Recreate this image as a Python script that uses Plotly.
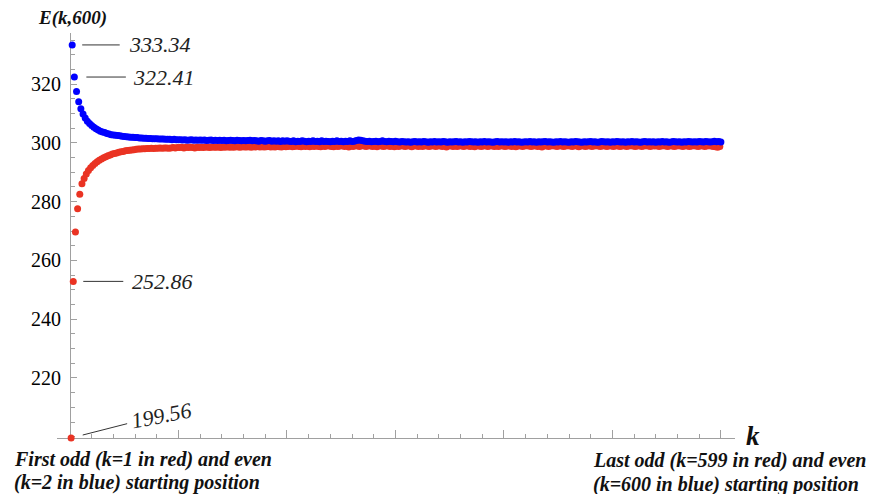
import plotly.graph_objects as go

# ---------------- data ----------------
# E(k,600) for odd k = 1,3,...,599 (red)
red_vals = [
    199.56, 252.86, 269.7, 277.6, 282.5, 286.1, 287.9, 289.4, 290.6, 291.5,
    292.3, 293.0, 293.6, 294.1, 294.5, 294.9, 295.3, 295.6, 295.9, 296.2,
    296.4, 296.6, 296.8, 297.0, 297.1, 297.3, 297.4, 297.5, 297.6, 297.7,
    297.8, 297.9, 297.9, 298.0, 298.0, 298.1, 298.1, 298.2, 298.1, 298.2,
    298.2, 298.3, 298.2, 298.3, 298.3, 298.2, 298.3, 298.4, 298.3, 298.4,
    298.4, 298.5, 298.3, 298.5, 298.4, 298.5, 298.4, 298.3, 298.5, 298.4,
    298.5, 298.4, 298.6, 298.5, 298.4, 298.6, 298.5, 298.5, 298.6, 298.4,
    298.6, 298.5, 298.7, 298.5, 298.6, 298.5, 298.7, 298.6, 298.5, 298.7,
    298.6, 298.6, 298.7, 298.5, 298.7, 298.6, 298.8, 298.6, 298.7, 298.6,
    298.7, 298.8, 298.6, 298.7, 298.6, 298.8, 298.7, 298.6, 298.8, 298.7,
    298.8, 298.9, 298.7, 298.8, 299.0, 298.8, 298.7, 298.9, 298.8, 298.9,
    298.7, 298.9, 298.8, 299.0, 298.8, 298.7, 298.9, 298.8, 299.0, 298.9,
    298.8, 298.7, 298.9, 298.8, 298.9, 299.0, 298.8, 298.9, 298.6, 298.9,
    298.8, 299.0, 298.9, 298.8, 299.1, 298.9, 298.8, 299.0, 298.9, 298.8,
    298.9, 298.7, 299.0, 298.9, 298.8, 298.9, 299.0, 298.8, 298.9, 298.7,
    298.9, 298.8, 299.0, 298.9, 298.8, 299.0, 298.9, 298.7, 298.9, 299.0,
    298.8, 298.9, 298.8, 299.0, 298.9, 298.8, 298.9, 299.0, 298.8, 298.9,
    299.0, 298.8, 298.9, 298.6, 298.9, 299.0, 298.8, 298.9, 298.8, 299.0,
    298.9, 298.8, 299.0, 298.9, 298.8, 298.9, 298.7, 299.0, 298.9, 298.8,
    298.9, 299.0, 298.8, 298.9, 299.0, 298.8, 298.9, 298.8, 299.0, 298.9,
    298.8, 298.9, 299.0, 298.8, 298.9, 298.7, 298.9, 299.0, 298.8, 298.9,
    299.0, 298.9, 298.8, 298.9, 299.0, 298.8, 298.9, 298.6, 298.9, 299.0,
    298.8, 298.9, 299.0, 298.9, 298.8, 299.0, 298.9, 298.8, 298.9, 299.0,
    298.9, 298.8, 299.0, 298.9, 298.7, 298.9, 299.0, 298.8, 298.9, 299.0,
    298.8, 298.9, 299.0, 298.9, 298.8, 299.0, 298.9, 298.8, 299.0, 298.9,
    298.8, 299.0, 298.9, 298.8, 298.9, 299.0, 298.8, 298.9, 299.0, 298.9,
    298.8, 298.9, 299.0, 298.8, 298.9, 299.0, 298.9, 298.8, 299.0, 298.9,
    299.0, 298.8, 298.9, 299.0, 298.9, 298.8, 299.0, 298.9, 298.8, 298.9,
    299.0, 298.9, 298.8, 299.0, 298.9, 298.8, 298.9, 299.0, 298.9, 298.8,
    298.9, 299.0, 298.8, 298.9, 299.0, 298.9, 298.8, 298.7, 298.5, 298.8,
]

# E(k,600) for even k = 2,4,...,600 (blue)
blue_vals = [
    333.34, 322.41, 317.5, 314.0, 311.6, 309.8, 308.5, 307.4, 306.6, 305.9,
    305.3, 304.8, 304.4, 304.0, 303.7, 303.5, 303.2, 303.0, 302.8, 302.7,
    302.6, 302.5, 302.4, 302.3, 302.2, 302.1, 302.0, 301.9, 301.9, 301.8,
    301.8, 301.7, 301.7, 301.6, 301.6, 301.5, 301.5, 301.4, 301.4, 301.4,
    301.3, 301.3, 301.3, 301.2, 301.2, 301.2, 301.1, 301.2, 301.1, 301.1,
    301.1, 301.0, 301.1, 300.9, 301.0, 301.1, 300.9, 301.0, 300.9, 301.0,
    300.9, 301.0, 300.8, 300.9, 301.0, 300.8, 300.9, 300.8, 300.9, 300.8,
    300.9, 300.7, 300.8, 300.9, 300.8, 300.7, 300.9, 300.8, 300.7, 300.8,
    300.7, 300.8, 300.9, 300.7, 300.8, 300.7, 300.6, 300.8, 300.7, 300.6,
    300.7, 300.8, 300.6, 300.7, 300.6, 300.7, 300.5, 300.7, 300.6, 300.7,
    300.6, 300.5, 300.7, 300.4, 300.6, 300.5, 300.7, 300.6, 300.4, 300.6,
    300.5, 300.7, 300.5, 300.6, 300.4, 300.7, 300.5, 300.6, 300.5, 300.4,
    300.6, 300.5, 300.7, 300.5, 300.6, 300.4, 300.6, 300.5, 300.7, 300.5,
    300.6, 300.8, 301.0, 300.9, 300.7, 300.6, 300.5, 300.6, 300.4, 300.5,
    300.6, 300.4, 300.5, 300.7, 300.5, 300.4, 300.6, 300.5, 300.4, 300.6,
    300.4, 300.3, 300.5, 300.4, 300.3, 300.4, 300.2, 300.4, 300.5, 300.3,
    300.4, 300.3, 300.5, 300.4, 300.2, 300.4, 300.3, 300.5, 300.3, 300.4,
    300.3, 300.5, 300.4, 300.2, 300.4, 300.3, 300.4, 300.5, 300.3, 300.4,
    300.2, 300.4, 300.3, 300.5, 300.4, 300.3, 300.4, 300.2, 300.4, 300.3,
    300.5, 300.3, 300.4, 300.3, 300.2, 300.4, 300.5, 300.3, 300.4, 300.3,
    300.4, 300.2, 300.4, 300.3, 300.5, 300.3, 300.4, 300.2, 300.3, 300.4,
    300.3, 300.5, 300.3, 300.4, 300.2, 300.4, 300.3, 300.4, 300.5, 300.3,
    300.4, 300.3, 300.2, 300.4, 300.3, 300.5, 300.3, 300.4, 300.3, 300.2,
    300.4, 300.3, 300.5, 300.4, 300.3, 300.2, 300.4, 300.3, 300.4, 300.5,
    300.3, 300.4, 300.2, 300.3, 300.5, 300.4, 300.3, 300.4, 300.2, 300.4,
    300.3, 300.5, 300.4, 300.3, 300.4, 300.2, 300.4, 300.3, 300.5, 300.3,
    300.4, 300.3, 300.2, 300.4, 300.5, 300.3, 300.4, 300.3, 300.4, 300.2,
    300.4, 300.3, 300.5, 300.3, 300.4, 300.2, 300.3, 300.5, 300.4, 300.3,
    300.4, 300.2, 300.4, 300.3, 300.5, 300.4, 300.3, 300.4, 300.3, 300.5,
    300.4, 300.3, 300.5, 300.4, 300.3, 300.4, 300.6, 300.4, 300.5, 300.3,
]

k_odd = list(range(1, 600, 2))[:len(red_vals)]
k_even = list(range(2, 601, 2))[:len(blue_vals)]

y_tick_vals = [220, 240, 260, 280, 300, 320]
y_tick_text = ["220", "240", "260", "280", "300", "320"]

x_range = [-12, 613]
y_range = [199.56, 337.4]

RED = "#ea3323"
BLUE = "#0000ff"
AXC = "#a0a0a0"
SERIF = "Liberation Serif, Times New Roman, serif"

# ---------------- layout geometry (pixels) ----------------
W, H = 873, 494
ML, MR, MT, MB = 57, 138, 33, 56
PW, PH = W - ML - MR, H - MT - MB


def px_x(p):
    return (p - ML) / PW


def px_y(p):
    return (H - MB - p) / PH


fig = go.Figure()
fig.add_trace(go.Scatter(
    x=k_odd, y=red_vals, mode="markers", cliponaxis=False,
    marker=dict(color=RED, size=7, line=dict(width=0)), hoverinfo="skip",
))
fig.add_trace(go.Scatter(
    x=k_even, y=blue_vals, mode="markers", cliponaxis=False,
    marker=dict(color=BLUE, size=7, line=dict(width=0)), hoverinfo="skip",
))

yaxis_pos = (0 - x_range[0]) / (x_range[1] - x_range[0])

fig.update_layout(
    width=W, height=H,
    margin=dict(l=ML, r=MR, t=MT, b=MB, pad=0),
    paper_bgcolor="white", plot_bgcolor="white",
    showlegend=False,
    xaxis=dict(
        range=x_range, showgrid=False, zeroline=False, layer="below traces",
        showline=True, linecolor=AXC, linewidth=1,
        ticks="inside", tick0=0, dtick=100, ticklen=8, tickwidth=1, tickcolor=AXC,
        minor=dict(ticks="inside", dtick=20, tick0=0, ticklen=4, tickwidth=1, tickcolor=AXC),
        showticklabels=False,
    ),
    yaxis=dict(
        range=y_range, showgrid=False, zeroline=False, layer="below traces",
        anchor="free", position=yaxis_pos,
        showline=True, linecolor=AXC, linewidth=1,
        ticks="inside", tickvals=y_tick_vals, ticktext=y_tick_text,
        ticklen=6, tickwidth=1, tickcolor=AXC,
        minor=dict(ticks="inside", dtick=5, tick0=0, ticklen=4, tickwidth=1, tickcolor=AXC),
        tickfont=dict(family=SERIF, size=20, color="black"),
        ticklabelstandoff=5,
    ),
)

ital = dict(family=SERIF, size=22, color="#222222", style="italic")
bi = dict(family=SERIF, size=20, color="#111111", style="italic", weight="bold")

# value call-outs
callouts = [
    (k_even[0], blue_vals[0], 88, 0, 10, 9, 0),
    (k_even[1], blue_vals[1], 90, 0, 12, 7, 0),
    (k_odd[1], red_vals[1], 89, 0, 10, 8, 0),
    (k_odd[0], red_vals[0], 90, -23, 12, 4, -11),
]
for kx, vy, ax, ay, so, sso, ang in callouts:
    fig.add_annotation(
        x=kx, y=vy, xref="x", yref="y", text=f"{vy:.2f}",
        showarrow=True, arrowhead=0, arrowwidth=1, arrowcolor="#333333",
        ax=ax, ay=ay, standoff=so, startstandoff=sso, textangle=ang,
        font=ital, borderpad=0,
    )

# axis labels
fig.add_annotation(x=px_x(72.5), y=px_y(18.5), xref="paper", yref="paper",
                   text="E(k,600)", showarrow=False, xanchor="center", yanchor="middle",
                   font=dict(family=SERIF, size=19, color="#111111", style="italic", weight="bold"))
fig.add_annotation(x=px_x(744), y=px_y(436), xref="paper", yref="paper",
                   text="k", showarrow=False, xanchor="left", yanchor="middle",
                   font=dict(family=SERIF, size=27, color="#111111", style="italic", weight="bold"))

# bottom captions
captions = [
    (12, 459, "First odd (k=1 in red) and even"),
    (12, 482, "(k=2 in blue) starting position"),
    (591, 461, "Last odd (k=599 in red) and even"),
    (591, 484, "(k=600 in blue) starting position"),
]
for cx, cy, txt in captions:
    fig.add_annotation(x=px_x(cx), y=px_y(cy), xref="paper", yref="paper",
                       text=txt, showarrow=False, xanchor="left", yanchor="middle",
                       font=bi)

fig.write_html("out.html", config={"displayModeBar": False})
